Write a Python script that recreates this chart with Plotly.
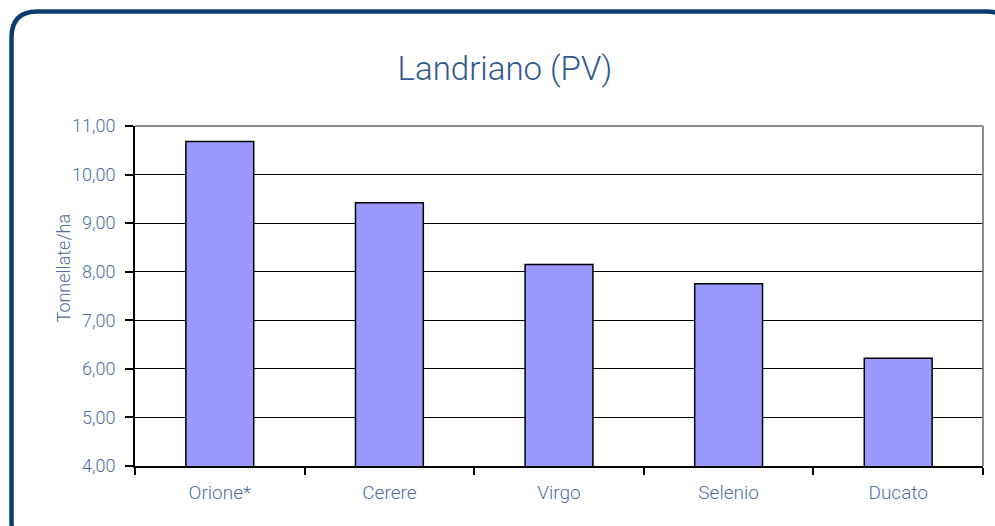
import plotly.graph_objects as go

categories = ["Orione*", "Cerere", "Virgo", "Selenio", "Ducato"]
values = [10.68, 9.42, 8.15, 7.75, 6.22]
y_ticks = [4, 5, 6, 7, 8, 9, 10, 11]
title_text = "Landriano (PV)"
y_title = "Tonnellate/ha"

W, H = 995, 526
L, R, T, B = 135, 12, 126, 60
pw, ph = W - L - R, H - T - B

def px(x):
    return (x - L) / pw

def py(y):
    return (H - B - y) / ph

text_col = "#4f6f9f"

fig = go.Figure()
fig.add_trace(go.Bar(
    x=categories, y=values,
    marker=dict(color="#9999FF", line=dict(color="black", width=1.5)),
    width=0.4,
))

# rounded frame
x0, y0, x1, y1, r = 11.5, 11.5, 1012, 548, 26
path = (f"M {px(x0)},{py(y0 + r)} "
        f"Q {px(x0)},{py(y0)} {px(x0 + r)},{py(y0)} "
        f"L {px(x1 - r)},{py(y0)} "
        f"Q {px(x1)},{py(y0)} {px(x1)},{py(y0 + r)} "
        f"L {px(x1)},{py(y1 - r)} "
        f"Q {px(x1)},{py(y1)} {px(x1 - r)},{py(y1)} "
        f"L {px(x0 + r)},{py(y1)} "
        f"Q {px(x0)},{py(y1)} {px(x0)},{py(y1 - r)} Z")

shapes = [
    dict(type="path", path=path, xref="paper", yref="paper",
         line=dict(color="#0b3c6f", width=4.5), layer="below"),
    dict(type="line", xref="paper", yref="paper", x0=0, x1=1, y0=1, y1=1,
         line=dict(color="#8a8a8a", width=2), layer="above"),
    dict(type="line", xref="paper", yref="paper", x0=1, x1=1, y0=0, y1=1,
         line=dict(color="#8a8a8a", width=2), layer="above"),
]

fig.update_layout(
    width=W, height=H,
    margin=dict(l=L, r=R, t=T, b=B),
    paper_bgcolor="white", plot_bgcolor="white",
    separators=", ",
    showlegend=False,
    font=dict(family="Roboto", color=text_col, size=18, weight=300),
    title=dict(text=title_text, x=505 / W, xanchor="center", y=1 - 68 / H,
               yanchor="middle", yref="container",
               font=dict(family="Roboto", size=33, color="#2f5a8c", weight=300)),
    shapes=shapes,
    annotations=[dict(text=y_title, textangle=-90, xref="paper", yref="paper",
                      x=px(50), y=py(268), showarrow=False,
                      font=dict(size=18, color=text_col, weight=300))],
    bargap=0.6,
)
fig.update_xaxes(showline=True, linecolor="black", linewidth=2,
                 ticks="outside", tickson="boundaries", ticklen=7,
                 tickcolor="black", tickwidth=1.5, showgrid=False,
                 ticklabelstandoff=8,
                 tickfont=dict(size=19, color=text_col, weight=300))
fig.update_yaxes(range=[4, 11], tickvals=y_ticks, tickformat=".2f",
                 showline=True, linecolor="black", linewidth=2,
                 ticks="outside", ticklen=8, tickcolor="black", tickwidth=1.5,
                 showgrid=True, gridcolor="black", gridwidth=1,
                 ticklabelstandoff=6,
                 zeroline=False, tickfont=dict(size=18, color=text_col, weight=300))

fig.write_html("out.html", config={"displayModeBar": False},
               post_script="document.body.style.margin='0';document.body.style.overflow='hidden';")
